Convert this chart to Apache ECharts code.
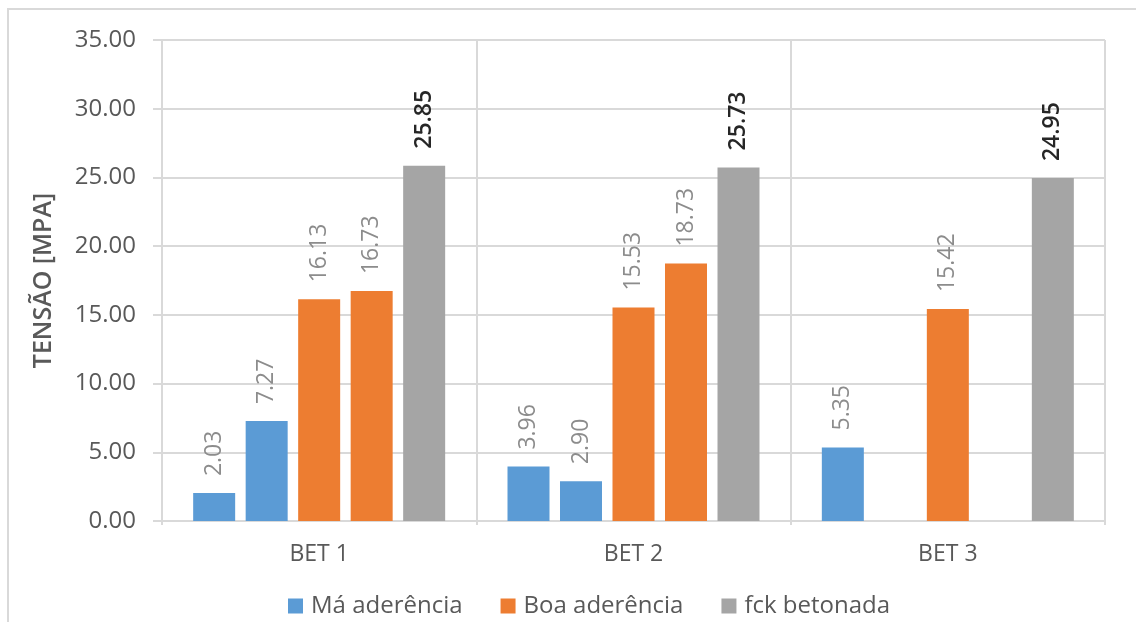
<!DOCTYPE html>
<html>
<head>
<meta charset="utf-8">
<script src="https://cdn.jsdelivr.net/npm/echarts@6/dist/echarts.min.js"></script>
<style>
  html, body { margin: 0; padding: 0; background: #fff; }
  #frame { position: absolute; left: 7px; top: 8px; width: 1140px; height: 620px;
           border-left: 2px solid #d9d9d9; border-top: 2px solid #d9d9d9; }
  #chart { position: absolute; left: 0; top: 0; width: 1136px; height: 622px; }
</style>
</head>
<body>
<div id="frame"></div>
<div id="chart"></div>
<script>
const categories = ['BET 1', 'BET 2', 'BET 3'];
const maAderencia1 = [2.03, 3.96, 5.35];
const maAderencia2 = [7.27, 2.90, null];
const boaAderencia1 = [16.13, 15.53, 15.42];
const boaAderencia2 = [16.73, 18.73, null];
const fckBetonada = [25.85, 25.73, 24.95];
const legendNames = ['Má aderência', 'Boa aderência', 'fck betonada'];

const FONT = '"Open Sans", "Noto Sans", sans-serif';
const COLORS = { ma: '#5b9bd5', boa: '#ed7d31', fck: '#a5a5a5' };

function fmt(v) { return Number(v).toFixed(2); }

function barSeries(name, data, color, bold) {
  return {
    name: name,
    type: 'bar',
    data: data,
    barWidth: 42,
    barGap: '25%',
    itemStyle: { color: color },
    label: {
      show: true,
      position: 'top',
      rotate: 90,
      align: 'left',
      verticalAlign: 'middle',
      distance: 17,
      fontFamily: FONT,
      fontSize: 23,
      fontWeight: bold ? 600 : 'normal',
      color: bold ? '#262626' : '#8c8c8c',
      formatter: p => p.value == null ? '' : fmt(p.value)
    }
  };
}

const chart = echarts.init(document.getElementById('chart'), null, { renderer: 'canvas' });
chart.setOption({
  animation: false,
  backgroundColor: 'transparent',
  grid: { left: 162, right: 31, top: 40, bottom: 101, containLabel: false },
  legend: {
    data: legendNames,
    left: 283,
    top: 589,
    icon: 'rect',
    itemWidth: 15,
    itemHeight: 15,
    itemGap: 38,
    textStyle: { fontFamily: FONT, fontSize: 24, color: '#595959', padding: [0, 0, 0, 3] }
  },
  xAxis: {
    type: 'category',
    data: categories,
    axisLine: { show: true, lineStyle: { color: '#d9d9d9', width: 2 } },
    axisTick: { show: true, length: 4, lineStyle: { color: '#d9d9d9', width: 2 } },
    splitLine: { show: true, lineStyle: { color: '#d9d9d9', width: 2 } },
    axisLabel: { fontFamily: FONT, fontSize: 23, color: '#595959', margin: 22 }
  },
  yAxis: {
    type: 'value',
    min: 0,
    max: 35,
    interval: 5,
    name: 'TENSÃO [MPA]',
    nameLocation: 'middle',
    nameGap: 106,
    nameTextStyle: { fontFamily: FONT, fontSize: 25, fontWeight: 600, color: '#595959' },
    axisLine: { show: true, lineStyle: { color: '#d9d9d9', width: 2 } },
    axisTick: { show: true, length: 9, lineStyle: { color: '#d9d9d9', width: 2 } },
    splitLine: { show: true, lineStyle: { color: '#d9d9d9', width: 2 } },
    axisLabel: { fontFamily: FONT, fontSize: 24, color: '#595959', margin: 26, formatter: v => fmt(v) }
  },
  series: [
    barSeries('Má aderência', maAderencia1, COLORS.ma, false),
    barSeries('Má aderência', maAderencia2, COLORS.ma, false),
    barSeries('Boa aderência', boaAderencia1, COLORS.boa, false),
    barSeries('Boa aderência', boaAderencia2, COLORS.boa, false),
    barSeries('fck betonada', fckBetonada, COLORS.fck, true)
  ]
});
</script>
</body>
</html>
